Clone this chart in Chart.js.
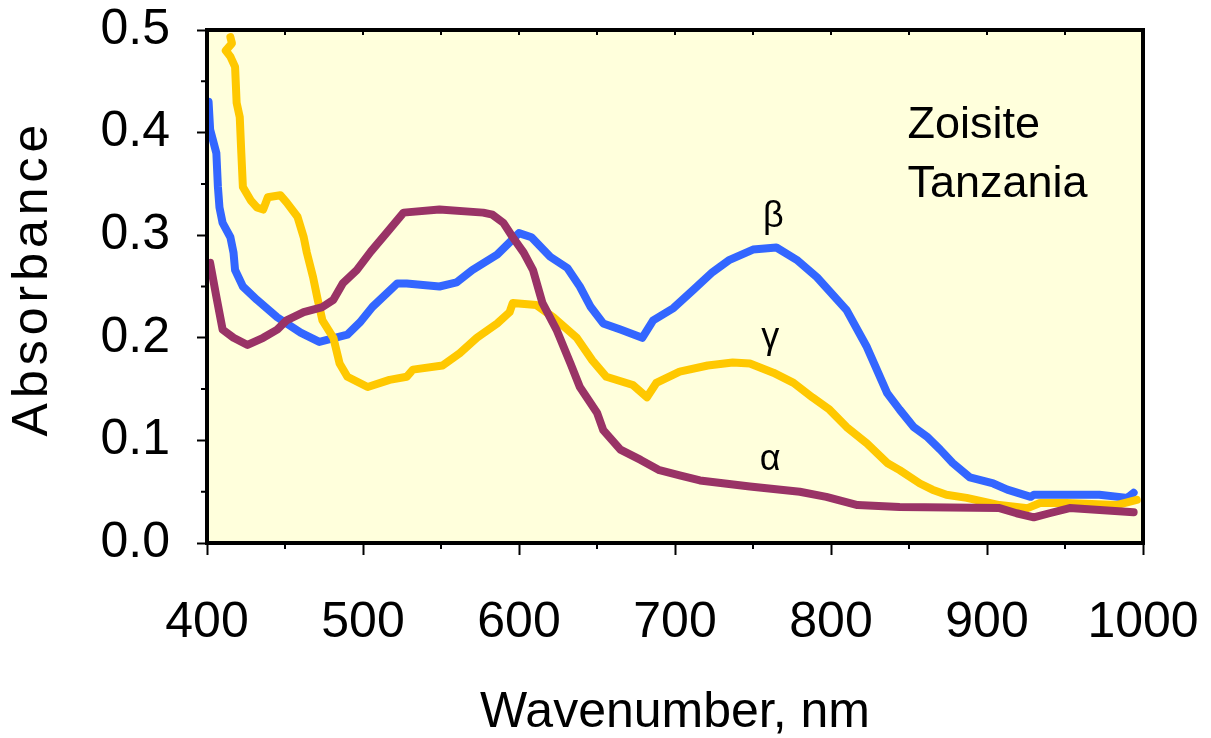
<!DOCTYPE html>
<html>
<head>
<meta charset="utf-8">
<script src="https://cdn.jsdelivr.net/npm/chart.js@4/dist/chart.umd.min.js"></script>
<style>
  html, body { margin: 0; padding: 0; background: #ffffff; }
  canvas { display: block; }
</style>
</head>
<body>
<canvas id="c" width="1211" height="738"></canvas>
<script>
// ---- Data ----
const betaNm  = [401,402,406,407,408,410,415,417,418,423,432,445,460,472,490,498,506,522,528,549,560,570,586,600,608,620,631,639,646,654,665,679,686,699,712,724,735,750,765,778,791,810,823,836,844,853,862,870,878,889,904,913,928,930,972,990,994];
const betaAbs = [0.430,0.403,0.380,0.347,0.327,0.312,0.298,0.283,0.266,0.250,0.237,0.220,0.205,0.196,0.203,0.215,0.230,0.253,0.253,0.250,0.254,0.266,0.281,0.302,0.298,0.279,0.268,0.250,0.230,0.214,0.208,0.200,0.217,0.229,0.247,0.264,0.276,0.286,0.288,0.276,0.259,0.227,0.191,0.146,0.130,0.113,0.103,0.091,0.078,0.064,0.058,0.052,0.045,0.047,0.047,0.044,0.049];

const gammaNm  = [415,416,412,415,418,419,421,422,423,428,432,436,439,447,451,458,462,464,468,471,474,481,485,490,503,517,528,532,551,562,573,586,594,596,611,622,637,647,656,673,682,688,703,721,737,748,763,776,788,799,810,823,836,844,857,865,874,887,908,926,934,951,983,996];
const gammaAbs = [0.493,0.487,0.480,0.474,0.464,0.429,0.415,0.380,0.347,0.334,0.327,0.325,0.337,0.339,0.332,0.318,0.298,0.283,0.259,0.237,0.217,0.200,0.175,0.162,0.152,0.159,0.162,0.169,0.173,0.185,0.200,0.214,0.225,0.234,0.232,0.220,0.200,0.178,0.162,0.154,0.142,0.156,0.167,0.173,0.176,0.175,0.166,0.156,0.142,0.130,0.113,0.097,0.078,0.071,0.058,0.052,0.047,0.044,0.037,0.034,0.039,0.039,0.037,0.042];

const alphaNm  = [402,406,410,417,426,436,445,451,462,474,481,487,496,505,515,526,549,577,583,590,596,603,609,615,624,633,639,650,654,665,678,690,703,716,748,780,797,817,844,908,919,930,940,953,994];
const alphaAbs = [0.273,0.240,0.208,0.200,0.193,0.200,0.208,0.217,0.225,0.230,0.237,0.253,0.266,0.284,0.302,0.322,0.325,0.322,0.320,0.312,0.298,0.283,0.266,0.234,0.208,0.175,0.152,0.127,0.110,0.091,0.081,0.071,0.066,0.061,0.055,0.050,0.045,0.037,0.035,0.034,0.029,0.025,0.029,0.034,0.030];

const xTickLabels = ['400','500','600','700','800','900','1000'];
const yTickLabels = ['0.0','0.1','0.2','0.3','0.4','0.5'];

// Text annotations placed in data coordinates
const noteTexts = ['β','γ','α'];
const noteNm    = [763, 761, 761];
const noteAbs   = [0.318, 0.200, 0.081];
const boxLines  = ['Zoisite','Tanzania'];
const boxNm     = [849, 849];
const boxAbs    = [0.395, 0.337];

const toPts = (xs, ys) => xs.map((x, i) => ({ x: x, y: ys[i] }));

const FONT = "'Liberation Sans', Arial, sans-serif";

const framePlugin = {
  id: 'frame',
  beforeDatasetsDraw(chart) {
    const { ctx, chartArea: a } = chart;
    ctx.save();
    ctx.fillStyle = '#FFFFDC';
    ctx.fillRect(a.left, a.top, a.right - a.left, a.bottom - a.top);
    ctx.restore();
  },
  afterDatasetsDraw(chart) {
    const { ctx, chartArea: a, scales } = chart;
    const xs = scales.x, ys = scales.y;
    ctx.save();
    ctx.strokeStyle = '#000';
    ctx.lineWidth = 4;
    ctx.strokeRect(a.left, a.top, a.right - a.left, a.bottom - a.top);
    ctx.lineWidth = 2;
    ctx.beginPath();
    for (let v = 450; v < 1000; v += 100) {
      const px = xs.getPixelForValue(v);
      ctx.moveTo(px, a.bottom); ctx.lineTo(px, a.bottom + 6);
    }
    for (let v = 450; v < 1000; v += 50) {
      const px = xs.getPixelForValue(v);
      ctx.moveTo(px, a.top); ctx.lineTo(px, a.top + 5);
    }
    for (let k = 0; k < 5; k++) {
      const py = ys.getPixelForValue(0.05 + k * 0.1);
      ctx.moveTo(a.left, py); ctx.lineTo(a.left - 6, py);
    }
    ctx.stroke();
    ctx.fillStyle = '#000';
    ctx.textAlign = 'center';
    ctx.textBaseline = 'middle';
    ctx.font = '36px ' + FONT;
    noteTexts.forEach((t, i) => {
      ctx.fillText(t, xs.getPixelForValue(noteNm[i]), ys.getPixelForValue(noteAbs[i]));
    });
    ctx.textAlign = 'left';
    ctx.textBaseline = 'alphabetic';
    ctx.font = '45px ' + FONT;
    boxLines.forEach((t, i) => {
      ctx.fillText(t, xs.getPixelForValue(boxNm[i]), ys.getPixelForValue(boxAbs[i]));
    });
    ctx.restore();
  },
  afterDraw(chart) {
    const { ctx } = chart;
    ctx.save();
    ctx.translate(33, 278);
    ctx.rotate(-Math.PI / 2);
    ctx.fillStyle = '#000';
    ctx.font = '50px ' + FONT;
    ctx.textAlign = 'center';
    ctx.textBaseline = 'middle';
    if ('letterSpacing' in ctx) ctx.letterSpacing = '5px';
    ctx.fillText('Absorbance', 0, 0);
    ctx.restore();
  }
};

const ds = (label, xs, ys, color) => ({
  label: label,
  data: toPts(xs, ys),
  borderColor: color,
  backgroundColor: color,
  borderWidth: 8,
  pointRadius: 0,
  showLine: true,
  tension: 0,
  borderCapStyle: 'round',
  borderJoinStyle: 'round',
  fill: false
});

new Chart(document.getElementById('c'), {
  type: 'scatter',
  data: {
    datasets: [
      ds('α', alphaNm, alphaAbs, '#993366'),
      ds('γ', gammaNm, gammaAbs, '#FFC800'),
      ds('β', betaNm, betaAbs, '#3366FF')
    ]
  },
  options: {
    responsive: false,
    animation: false,
    devicePixelRatio: 1,
    layout: { padding: { top: 30, right: 68, left: 0, bottom: 0 } },
    plugins: { legend: { display: false }, tooltip: { enabled: false } },
    scales: {
      x: {
        type: 'linear',
        min: 400, max: 1000,
        afterFit: s => { s.height = 195; s.paddingLeft = 0; s.paddingRight = 0; },
        ticks: {
          stepSize: 100,
          color: '#000',
          font: { family: FONT, size: 50, lineHeight: 1 },
          padding: 43,
          maxRotation: 0,
          callback: (v) => { const i = xTickLabels.indexOf(String(v)); return i >= 0 ? xTickLabels[i] : ''; }
        },
        grid: { drawOnChartArea: false, drawTicks: true, tickLength: 12, tickWidth: 2, tickColor: '#000' },
        border: { display: true, color: '#000', width: 4 },
        title: {
          display: true, text: 'Wavenumber, nm', color: '#000',
          font: { family: FONT, size: 50, lineHeight: 1 },
          padding: { top: 0, bottom: 0 }
        }
      },
      y: {
        type: 'linear',
        min: 0, max: 0.5,
        afterFit: s => { s.width = 207; s.paddingTop = 0; s.paddingBottom = 0; },
        ticks: {
          stepSize: 0.1,
          color: '#000',
          font: { family: FONT, size: 50, lineHeight: 1 },
          padding: 27,
          callback: (v) => yTickLabels[Math.round(v * 10)]
        },
        grid: { drawOnChartArea: false, drawTicks: true, tickLength: 10, tickWidth: 2, tickColor: '#000' },
        border: { display: true, color: '#000', width: 4 },
        title: { display: false }
      }
    }
  },
  plugins: [framePlugin]
});
</script>
</body>
</html>
